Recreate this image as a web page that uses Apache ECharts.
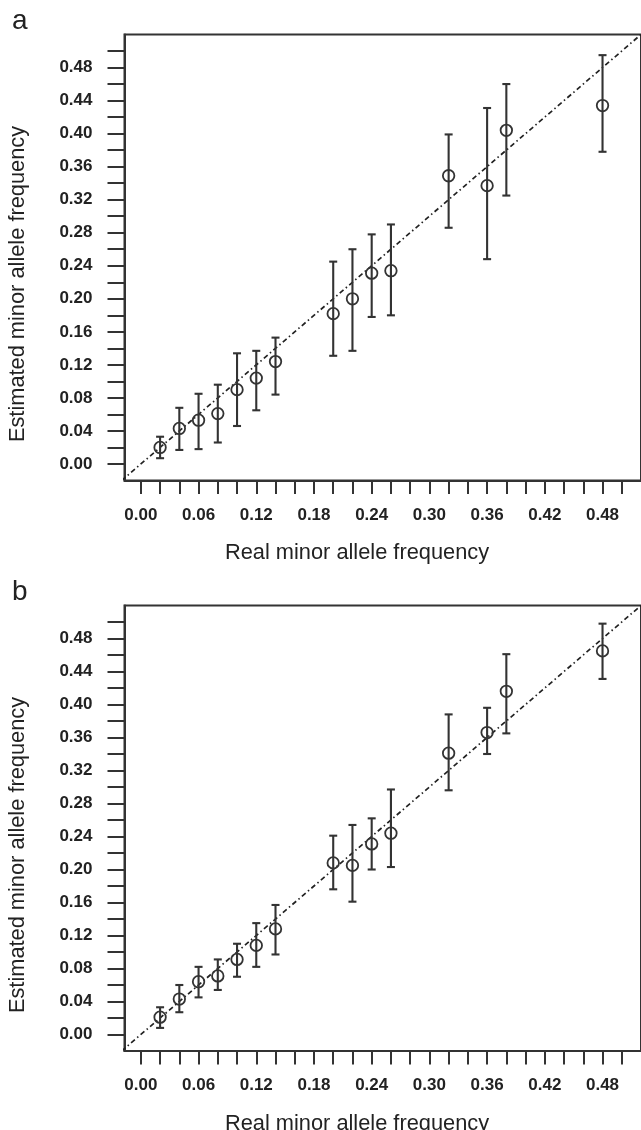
<!DOCTYPE html>
<html>
<head>
<meta charset="utf-8">
<script src="https://cdn.jsdelivr.net/npm/echarts@6/dist/echarts.min.js"></script>
<style>
html,body{margin:0;padding:0;background:#fff;}
#chart{width:641px;height:1130px;}
</style>
</head>
<body>
<div id="chart"></div>
<script>
// ---- data ----
const realMAF = [0.02, 0.04, 0.06, 0.08, 0.10, 0.12, 0.14, 0.20, 0.22, 0.24, 0.26, 0.32, 0.36, 0.38, 0.48];

const estA  = [0.020, 0.043, 0.053, 0.061, 0.090, 0.104, 0.124, 0.182, 0.200, 0.231, 0.234, 0.349, 0.337, 0.404, 0.434];
const lowA  = [0.007, 0.017, 0.018, 0.026, 0.046, 0.065, 0.084, 0.131, 0.137, 0.178, 0.180, 0.286, 0.248, 0.325, 0.378];
const highA = [0.033, 0.068, 0.085, 0.096, 0.134, 0.137, 0.153, 0.245, 0.260, 0.278, 0.290, 0.399, 0.431, 0.460, 0.495];

const estB  = [0.021, 0.043, 0.064, 0.071, 0.091, 0.108, 0.128, 0.208, 0.205, 0.231, 0.244, 0.341, 0.366, 0.416, 0.465];
const lowB  = [0.008, 0.027, 0.045, 0.054, 0.070, 0.082, 0.097, 0.176, 0.161, 0.200, 0.203, 0.296, 0.340, 0.365, 0.431];
const highB = [0.033, 0.060, 0.082, 0.091, 0.110, 0.135, 0.157, 0.241, 0.254, 0.262, 0.297, 0.388, 0.396, 0.461, 0.498];

const tickValues = [0.00, 0.02, 0.04, 0.06, 0.08, 0.10, 0.12, 0.14, 0.16, 0.18, 0.20, 0.22, 0.24,
                    0.26, 0.28, 0.30, 0.32, 0.34, 0.36, 0.38, 0.40, 0.42, 0.44, 0.46, 0.48, 0.50];
const yLabelValues = [0.00, 0.04, 0.08, 0.12, 0.16, 0.20, 0.24, 0.28, 0.32, 0.36, 0.40, 0.44, 0.48];
const xLabelValues = [0.00, 0.06, 0.12, 0.18, 0.24, 0.30, 0.36, 0.42, 0.48];

const diagonal = [[-0.02, -0.02], [0.52, 0.52]];

const panelLabels = ['a', 'b'];
const xTitle = 'Real minor allele frequency';
const yTitle = 'Estimated minor allele frequency';

// ---- styling ----
const LINE = '#333';
const TEXT = '#222';
const FONT = '"Liberation Sans", Arial, Helvetica, sans-serif';

const chart = echarts.init(document.getElementById('chart'), null, {renderer: 'canvas'});

const grids = [
  {left: 124.5, top: 34.5, width: 520, height: 446},
  {left: 124.5, top: 605.5, width: 520, height: 445.5}
];

function makeX(i) {
  return {
    type: 'value', gridIndex: i, min: -0.017, max: 0.52,
    axisLine: {show: true, onZero: false, lineStyle: {color: LINE, width: 2}},
    axisTick: {show: true, length: 13.5, customValues: tickValues, lineStyle: {color: LINE, width: 2}},
    axisLabel: {customValues: xLabelValues, formatter: v => v.toFixed(2), margin: 26,
      color: TEXT, fontFamily: FONT, fontWeight: 'bold', fontSize: 17},
    splitLine: {show: false}
  };
}
function makeY(i) {
  return {
    type: 'value', gridIndex: i, min: -0.02, max: 0.52,
    axisLine: {show: true, onZero: false, lineStyle: {color: LINE, width: 2}},
    axisTick: {show: true, length: 17, customValues: tickValues, lineStyle: {color: LINE, width: 2}},
    axisLabel: {customValues: yLabelValues, formatter: v => v.toFixed(2), margin: 32,
      color: TEXT, fontFamily: FONT, fontWeight: 'bold', fontSize: 17},
    splitLine: {show: false}
  };
}

function errorSeries(i, low, high) {
  const data = realMAF.map((x, k) => [x, low[k], high[k]]);
  return {
    type: 'custom', xAxisIndex: i, yAxisIndex: i, silent: true, z: 3,
    data: data,
    encode: {x: 0, y: [1, 2]},
    renderItem: function (params, api) {
      const x = api.value(0), lo = api.value(1), hi = api.value(2);
      const pLo = api.coord([x, lo]);
      const pHi = api.coord([x, hi]);
      const w = 4;
      const st = {stroke: LINE, lineWidth: 2.1};
      return {
        type: 'group',
        children: [
          {type: 'line', shape: {x1: pLo[0], y1: pLo[1], x2: pHi[0], y2: pHi[1]}, style: st},
          {type: 'line', shape: {x1: pLo[0] - w, y1: pLo[1], x2: pLo[0] + w, y2: pLo[1]}, style: st},
          {type: 'line', shape: {x1: pHi[0] - w, y1: pHi[1], x2: pHi[0] + w, y2: pHi[1]}, style: st}
        ]
      };
    }
  };
}

function pointSeries(i, est) {
  return {
    type: 'scatter', xAxisIndex: i, yAxisIndex: i, silent: true, z: 4,
    symbol: 'circle', symbolSize: 11.5,
    itemStyle: {color: 'rgba(0,0,0,0)', borderColor: LINE, borderWidth: 1.8, opacity: 1},
    data: realMAF.map((x, k) => [x, est[k]])
  };
}

function diagSeries(i) {
  return {
    type: 'line', xAxisIndex: i, yAxisIndex: i, silent: true, z: 2,
    showSymbol: false, symbol: 'none', clip: true,
    lineStyle: {color: '#222', width: 1.7, type: [5, 3, 1.5, 3]},
    data: diagonal
  };
}

const graphics = [];
const panelTops = [0, 571];
panelTops.forEach((off, i) => {
  graphics.push({type: 'text', x: 12, y: 21 + off,
    style: {text: panelLabels[i], font: '28px ' + FONT, fill: TEXT, textAlign: 'left', textVerticalAlign: 'middle'}});
  graphics.push({type: 'text', x: 357, y: 553 + off,
    style: {text: xTitle, font: '21.8px ' + FONT, fill: TEXT, textAlign: 'center', textVerticalAlign: 'middle'}});
  graphics.push({type: 'text', x: 18.3, y: 284 + off, rotation: Math.PI / 2,
    style: {text: yTitle, font: '21.8px ' + FONT, fill: TEXT, textAlign: 'center', textVerticalAlign: 'middle'}});
});

const option = {
  animation: false,
  backgroundColor: '#fff',
  grid: grids.map(g => Object.assign({show: true, borderColor: LINE, borderWidth: 2, backgroundColor: 'transparent'}, g)),
  xAxis: [makeX(0), makeX(1)],
  yAxis: [makeY(0), makeY(1)],
  series: [
    diagSeries(0), errorSeries(0, lowA, highA), pointSeries(0, estA),
    diagSeries(1), errorSeries(1, lowB, highB), pointSeries(1, estB)
  ],
  graphic: graphics
};

chart.setOption(option);
</script>
</body>
</html>
